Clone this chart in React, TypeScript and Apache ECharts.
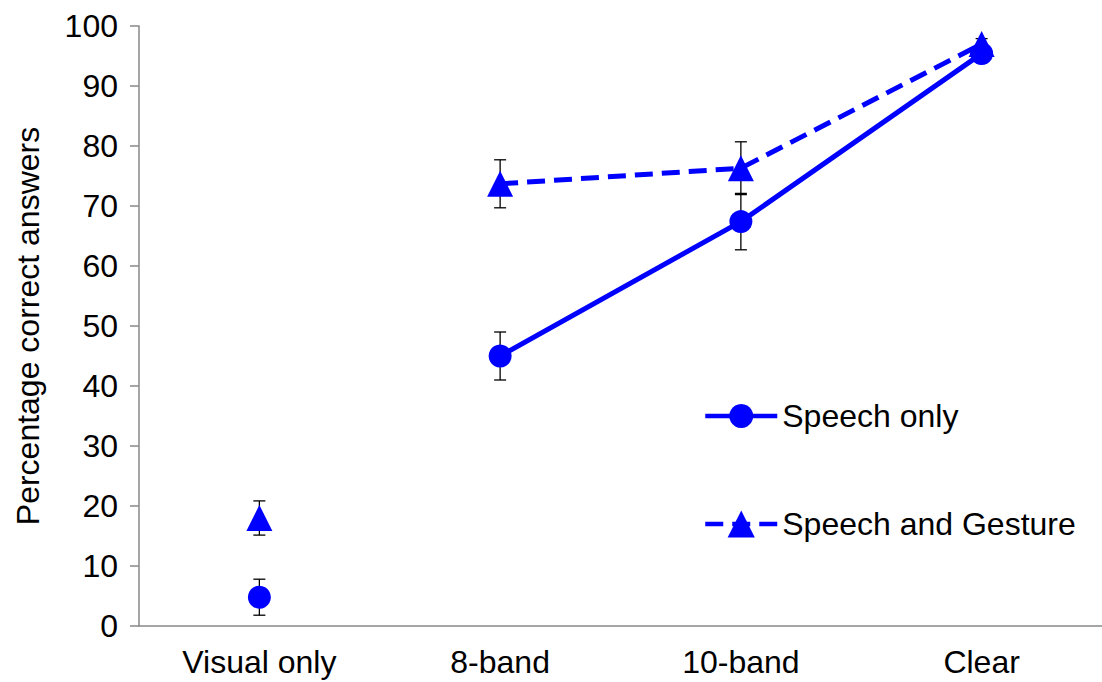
import React, { useEffect, useRef } from "react";
import * as echarts from "echarts";

const categories = ["Visual only", "8-band", "10-band", "Clear"];
const speechOnly = [4.8, 45.0, 67.4, 95.4];
const speechOnlyErr = [3.0, 4.0, 4.7, 1.0];
const speechGesture = [18.0, 73.7, 76.3, 97.0];
const speechGestureErr = [2.85, 4.0, 4.4, 0.9];
const connected = [false, true, true, true];
const yTicks = { min: 0, max: 100, interval: 10 };

const FONT = "'Liberation Sans', Arial, sans-serif";
const BLUE = "#0000FF";
const AXIS = "#898989";
const FS = 32;

function errData(vals: number[], errs: number[]) {
  return vals.map((v, i) => [i, v - errs[i], v + errs[i]]);
}

function renderErr(params: any, api: any) {
  const x = api.value(0);
  const lo = api.coord([x, api.value(1)]);
  const hi = api.coord([x, api.value(2)]);
  const hw = 6;
  const style = { stroke: "#000", lineWidth: 1.3 };
  return {
    type: "group",
    children: [
      { type: "line", shape: { x1: lo[0], y1: lo[1], x2: hi[0], y2: hi[1] }, style },
      { type: "line", shape: { x1: lo[0] - hw, y1: lo[1], x2: lo[0] + hw, y2: lo[1] }, style },
      { type: "line", shape: { x1: hi[0] - hw, y1: hi[1], x2: hi[0] + hw, y2: hi[1] }, style },
    ],
  };
}

export default function App() {
  const ref = useRef<HTMLDivElement>(null);
  useEffect(() => {
    if (!ref.current) return;
    const chart = echarts.init(ref.current, undefined, { renderer: "svg" });
    const legendBase = {
      orient: "vertical",
      left: 698,
      itemWidth: 72,
      itemHeight: 30,
      lineStyle: { width: 4.5 },
      textStyle: { fontSize: FS, color: "#000", fontFamily: FONT },
    };
    chart.setOption({
      animation: false,
      textStyle: { fontFamily: FONT },
      grid: { left: 139, right: -8, top: 26, bottom: 56, containLabel: false },
      legend: [
        { ...legendBase, top: 395, data: ["Speech only"] },
        { ...legendBase, itemHeight: 34, top: 503, data: ["Speech and Gesture"] },
      ],
      xAxis: {
        type: "category",
        data: categories,
        boundaryGap: true,
        axisLine: { lineStyle: { color: AXIS, width: 1.5 } },
        axisTick: { show: false },
        axisLabel: { fontSize: FS, color: "#000", margin: 20, fontFamily: FONT },
        splitLine: { show: false },
      },
      yAxis: {
        type: "value",
        min: yTicks.min,
        max: yTicks.max,
        interval: yTicks.interval,
        name: "Percentage correct answers",
        nameLocation: "middle",
        nameGap: 95,
        nameTextStyle: { fontSize: FS, color: "#000", fontFamily: FONT },
        axisLine: { show: true, lineStyle: { color: AXIS, width: 1.5 } },
        axisTick: { show: true, length: 9, lineStyle: { color: AXIS, width: 1.5 } },
        axisLabel: { fontSize: FS, color: "#000", margin: 21, fontFamily: FONT },
        splitLine: { show: false },
      },
      series: [
        {
          type: "custom",
          name: "errSO",
          renderItem: renderErr,
          data: errData(speechOnly, speechOnlyErr),
          encode: { x: 0, y: [1, 2] },
          z: 1,
          silent: true,
        },
        {
          type: "custom",
          name: "errSG",
          renderItem: renderErr,
          data: errData(speechGesture, speechGestureErr),
          encode: { x: 0, y: [1, 2] },
          z: 1,
          silent: true,
        },
        {
          type: "line",
          name: "Speech only",
          data: speechOnly.map((v, i) => (connected[i] ? v : "-")),
          symbol: "circle",
          symbolSize: 23,
          showAllSymbol: true,
          lineStyle: { color: BLUE, width: 5 },
          itemStyle: { color: BLUE, opacity: 1 },
          z: 3,
        },
        {
          type: "line",
          name: "Speech and Gesture",
          data: speechGesture.map((v, i) => (connected[i] ? v : "-")),
          symbol: "triangle",
          symbolSize: 26,
          showAllSymbol: true,
          lineStyle: { color: BLUE, width: 5, type: [18, 9] },
          itemStyle: { color: BLUE, opacity: 1 },
          z: 3,
        },
        {
          type: "scatter",
          name: "Speech only (visual)",
          data: speechOnly.map((v, i) => (connected[i] ? "-" : v)),
          symbol: "circle",
          symbolSize: 23,
          itemStyle: { color: BLUE, opacity: 1 },
          z: 3,
        },
        {
          type: "scatter",
          name: "Speech and Gesture (visual)",
          data: speechGesture.map((v, i) => (connected[i] ? "-" : v)),
          symbol: "triangle",
          symbolSize: 26,
          itemStyle: { color: BLUE, opacity: 1 },
          z: 3,
        },
      ],
    });
    return () => chart.dispose();
  }, []);
  return (
    <div
      ref={ref}
      style={{ position: "fixed", left: 0, top: 0, width: 1102, height: 682, background: "#fff" }}
    />
  );
}
